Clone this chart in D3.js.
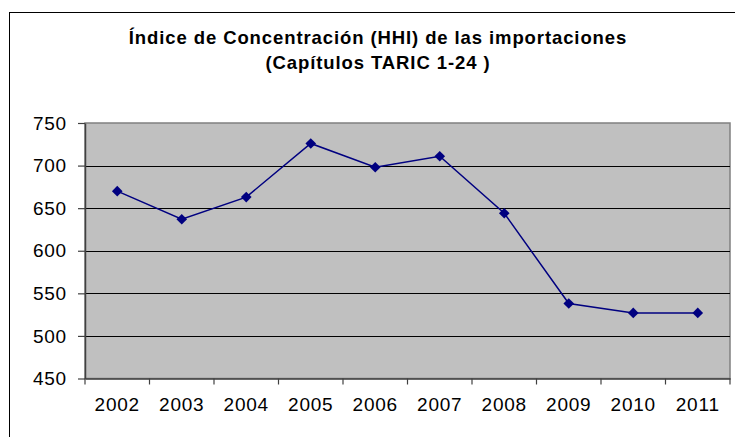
<!DOCTYPE html>
<html>
<head>
<meta charset="utf-8">
<script src="https://cdn.jsdelivr.net/npm/d3@7"></script>
<style>
  body { margin: 0; background: #fff; }
  text { font-family: "Liberation Sans", Arial, sans-serif; }
</style>
</head>
<body>
<div id="chart"></div>
<script>
// data
const years = ["2002", "2003", "2004", "2005", "2006", "2007", "2008", "2009", "2010", "2011"];
const hhi = [670, 637, 663, 726, 698, 711, 644, 538, 527, 527];
const yTicks = [450, 500, 550, 600, 650, 700, 750];
const titleLines = ["Índice de Concentración (HHI) de las importaciones", "(Capítulos TARIC 1-24 )"];

var w = 735, h = 437;
var plotL = 85, plotR = 730, plotT = 123, plotB = 378.5;

var svg = d3.select("#chart").append("svg")
  .attr("width", w)
  .attr("height", h);

// outer chart border (cut off on the right and bottom)
svg.append("rect")
  .attr("x", 9.5).attr("y", 12.5)
  .attr("width", 760).attr("height", 460)
  .attr("fill", "#fff")
  .attr("stroke", "#000")
  .attr("stroke-width", 1);

var x = d3.scaleBand().domain(years).range([plotL, plotR]);
var y = d3.scaleLinear().domain([450, 750]).range([plotB, plotT]);

// plot area
svg.append("rect")
  .attr("x", plotL).attr("y", plotT)
  .attr("width", plotR - plotL).attr("height", plotB - plotT)
  .attr("fill", "#c0c0c0")
  .attr("stroke", "#808080")
  .attr("stroke-width", 1.5);

// gridlines
svg.append("g").selectAll("line")
  .data(yTicks.filter(d => d > 450 && d < 750))
  .enter().append("line")
  .attr("x1", plotL).attr("x2", plotR)
  .attr("y1", d => Math.round(y(d)) + 0.5)
  .attr("y2", d => Math.round(y(d)) + 0.5)
  .attr("stroke", "#000")
  .attr("stroke-width", 1.2);

// y axis
var yAxis = svg.append("g")
  .attr("transform", "translate(" + plotL + ",0)")
  .call(d3.axisLeft(y).tickValues(yTicks).tickSize(7).tickPadding(11).tickSizeOuter(0));
yAxis.select(".domain").attr("stroke", "#404040").attr("stroke-width", 1.5);
yAxis.selectAll(".tick line").attr("stroke", "#404040").attr("stroke-width", 1.2);
yAxis.selectAll("text").attr("font-size", 19).attr("fill", "#000")
  .attr("letter-spacing", 0.8)
  .attr("font-family", "Liberation Sans, Arial, sans-serif");

// x axis, ticks on category boundaries
var xAxis = svg.append("g")
  .attr("transform", "translate(0," + plotB + ")")
  .call(d3.axisBottom(x).tickSize(0).tickPadding(19).tickSizeOuter(0));
xAxis.select(".domain").attr("stroke", "#404040").attr("stroke-width", 1.5);
xAxis.selectAll("text").attr("font-size", 19).attr("fill", "#000")
  .attr("letter-spacing", 0.8)
  .attr("font-family", "Liberation Sans, Arial, sans-serif");
svg.append("g").selectAll("line")
  .data(years.concat(["end"]))
  .enter().append("line")
  .attr("x1", (d, i) => plotL + i * x.bandwidth())
  .attr("x2", (d, i) => plotL + i * x.bandwidth())
  .attr("y1", plotB).attr("y2", plotB + 6)
  .attr("stroke", "#404040")
  .attr("stroke-width", 1.2);

// series line
var line = d3.line()
  .x((d, i) => x(years[i]) + x.bandwidth() / 2)
  .y(d => y(d));

svg.append("path")
  .datum(hhi)
  .attr("d", line)
  .attr("fill", "none")
  .attr("stroke", "#000080")
  .attr("stroke-width", 1.5);

svg.append("g").selectAll("path")
  .data(hhi)
  .enter().append("path")
  .attr("d", d3.symbol().type(d3.symbolDiamond2).size(72))
  .attr("transform", (d, i) => "translate(" + (x(years[i]) + x.bandwidth() / 2) + "," + y(d) + ")")
  .attr("fill", "#000080");

// title
svg.append("g").selectAll("text")
  .data(titleLines)
  .enter().append("text")
  .attr("x", 378)
  .attr("y", (d, i) => 44 + i * 25)
  .attr("text-anchor", "middle")
  .attr("font-size", 18.5)
  .attr("font-weight", "bold")
  .attr("letter-spacing", 0.9)
  .text(d => d);
</script>
</body>
</html>
